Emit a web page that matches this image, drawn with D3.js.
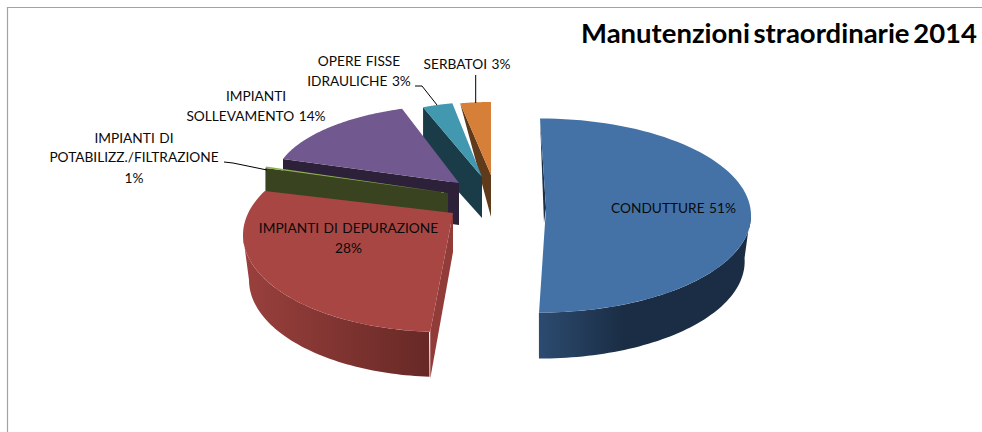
<!DOCTYPE html>
<html><head><meta charset="utf-8">
<script src="https://cdn.jsdelivr.net/npm/d3@7"></script>
<style>html,body{margin:0;padding:0;background:#fff}svg{display:block}</style>
</head><body><svg id="c" width="982" height="432"></svg>
<script>
const categories = ["CONDUTTURE","IMPIANTI DI DEPURAZIONE","IMPIANTI DI POTABILIZZ./FILTRAZIONE","IMPIANTI SOLLEVAMENTO","OPERE FISSE IDRAULICHE","SERBATOI"];
const values = [50.6, 27.9, 1.2, 14.1, 2.9, 3.3];
const titleText = "Manutenzioni straordinarie 2014";

// appearance of each slice, in pie order
const topColors  = ["#4472a6","#a84644","#8db14f","#71588f","#4198af","#d67f38"];
const cutColors  = ["#1b2f47","#923c39","#3a431f","#2c2139","#1a3c49","#5f3a1b"];
const wallFrom   = ["#2c4b70","#9a403d","#3a431f","#2c2139","#1a3c49","#5f3a1b"];
const wallTo     = ["#1a2d44","#672926","#3a431f","#2c2139","#1a3c49","#5f3a1b"];
// exploded 3-D projection: rim centre, apex, radii, perspective angle tweaks, wall heights
const rimCx  = [540, 443, 448, 459, 482, 491];
const rimCy  = [215.5, 235, 193, 183, 177, 175];
const apexX  = [546, 453, 448, 459, 482, 491];
const apexY  = [208, 213, 193, 183, 177, 175];
const radX   = [211, 200, 189, 185, 160, 165];
const radY   = [97, 97, 97, 78, 75, 73];
const tweakA = [0, 1.5, 2.4, 1, 0.7, 1.1];
const tweakB = [-1.9, 14.4, -1.1, 4.4, 1.2, 0];
const depthRim  = [46, 45, 0, 0, 0, 0];
const lowerScale = [0.97, 0.97, 1, 1, 1, 1];
const wallFromAngle = [88, 184, 0, 0, 0, 0];
const wallToAngle   = [180.3, 270, 0, 0, 0, 0];
const depthCorner = [0, 47, 30, 42, 45, 0];
const depthApex = [15, 39, 30, 42, 41, 42];
const apexShift = [-2, 0, 0, 0, 0, 0];
const drawOrder = [5, 4, 3, 2, 0, 1];

const labels = [
  {lines:["CONDUTTURE 51%"], x:673.5, y:[213]},
  {lines:["IMPIANTI DI DEPURAZIONE","28%"], x:348.5, y:[233,253]},
  {lines:["IMPIANTI DI","POTABILIZZ./FILTRAZIONE","1%"], x:134, y:[143,162,183]},
  {lines:["IMPIANTI","SOLLEVAMENTO 14%"], x:256, y:[101,121]},
  {lines:["OPERE FISSE","IDRAULICHE 3%"], x:359, y:[66,86]},
  {lines:["SERBATOI 3%"], x:467, y:[69]}
];
const leaders = [
  [[224,162],[233,163],[267,170]],
  [[415,86],[422,86],[437,105]],
  [[475.7,75],[475.7,103]]
];

const svg = d3.select("#c");
const font = "Lato, 'Open Sans', sans-serif";
const rad = d => d * Math.PI / 180;
const pie = d3.pie().sort(null).value(d => d).startAngle(0).endAngle(2*Math.PI);
const arcs = pie(values);
const defs = svg.append("defs");

// frame
svg.append("path").attr("d","M7.5,432V7.5H982").attr("fill","none").attr("stroke","#a3a3a3").attr("stroke-width",1.2);

const line = d3.line();
drawOrder.forEach(i => {
  const a = arcs[i];
  const s = a.startAngle*180/Math.PI + tweakA[i], e = a.endAngle*180/Math.PI + tweakB[i];
  const pt = (t,f=1) => [rimCx[i] + f*radX[i]*Math.sin(rad(t)), rimCy[i] - radY[i]*Math.cos(rad(t))];
  const angle = d3.scaleLinear().domain([0,80]).range([s,e]);
  const rim = d3.range(0,81).map(k => pt(angle(k)));
  const g = svg.append("g").attr("class","slice");
  // outer wall
  if (depthRim[i] > 0) {
    const id = "w"+i;
    const w = d3.scaleLinear().domain([0,60]).range([wallFromAngle[i],wallToAngle[i]]);
    const upper = d3.range(0,61).map(k => pt(w(k)));
    const low = d3.range(0,61).map(k => { const p = pt(w(k),lowerScale[i]); return [p[0],p[1]+depthRim[i]]; }).reverse();
    const xs = upper.map(p=>p[0]);
    const lg = defs.append("linearGradient").attr("id",id).attr("gradientUnits","userSpaceOnUse");
    if (i === 0) {
      lg.attr("x1",d3.min(xs)).attr("x2",d3.min(xs)+85).attr("y1",0).attr("y2",0);
    } else {
      lg.attr("x1",d3.max(xs)).attr("x2",d3.min(xs)).attr("y1",0).attr("y2",0);
    }
    lg.append("stop").attr("offset",0).attr("stop-color",i===0?wallFrom[i]:wallTo[i]);
    lg.append("stop").attr("offset",1).attr("stop-color",i===0?wallTo[i]:wallFrom[i]);
    g.append("path").attr("d", line(upper.concat(low))+"Z").attr("fill",`url(#${id})`);
  }
  // cut wall along the start edge
  const corner = rim[0];
  const poly = [[apexX[i],apexY[i]], corner, [corner[0],corner[1]+depthCorner[i]], [apexX[i]+apexShift[i],apexY[i]+depthApex[i]]];
  g.append("path").attr("d", line(poly)+"Z").attr("fill",cutColors[i]);
  // top face
  const face = [[apexX[i],apexY[i]]].concat(rim);
  g.append("path").attr("d", line(face)+"Z").attr("fill",topColors[i]);
});

// leaders
leaders.forEach(l => svg.append("path").attr("d",line(l)).attr("fill","none").attr("stroke","#000").attr("stroke-width",1));

// labels
labels.forEach(l => l.lines.forEach((t,k) => {
  svg.append("text").attr("x",l.x).attr("y",l.y[k]).attr("text-anchor","middle")
    .attr("font-family",font).attr("font-size",13.7).attr("word-spacing",1).attr("fill","#0a0a0a").text(t);
}));

// title
svg.append("text").attr("x",581).attr("y",43).attr("font-family",font).attr("font-weight",700)
  .attr("font-size",27).attr("word-spacing",-3).attr("fill","#000").attr("textLength",396).attr("lengthAdjust","spacingAndGlyphs").text(titleText);
</script></body></html>
